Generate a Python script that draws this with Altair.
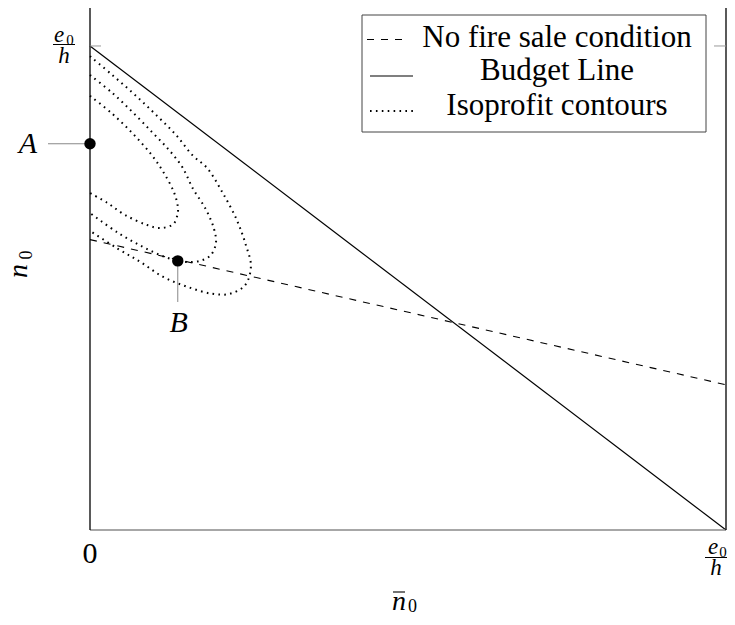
import altair as alt
import pandas as pd

SERIF = "Liberation Serif"

# ---- data (axes in units of e0/h) ----
budget_x = [0.0, 1.0]
budget_y = [1.0, 0.0]
nofire_x = [0.0, 1.0]
nofire_y = [0.6, 0.3]

outer_x = [0.0, 0.035, 0.069, 0.102, 0.134, 0.162, 0.184, 0.208, 0.231, 0.245, 0.253,
           0.244, 0.220, 0.192, 0.154, 0.115, 0.079, 0.044, 0.0]
outer_y = [0.979, 0.940, 0.901, 0.860, 0.818, 0.773, 0.748, 0.698, 0.640, 0.589, 0.545,
           0.506, 0.488, 0.488, 0.502, 0.523, 0.554, 0.581, 0.618]
middle_x = [0.0, 0.035, 0.068, 0.099, 0.123, 0.145, 0.162, 0.182, 0.195, 0.198, 0.190,
            0.173, 0.149, 0.118, 0.083, 0.044, 0.0]
middle_y = [0.940, 0.903, 0.862, 0.820, 0.787, 0.750, 0.705, 0.663, 0.622, 0.593, 0.568,
            0.556, 0.554, 0.564, 0.585, 0.614, 0.655]
inner_x = [0.0, 0.035, 0.068, 0.098, 0.116, 0.132, 0.138, 0.138, 0.131, 0.110, 0.090,
           0.055, 0.027, 0.0]
inner_y = [0.897, 0.860, 0.818, 0.773, 0.738, 0.698, 0.669, 0.655, 0.632, 0.624, 0.630,
           0.651, 0.676, 0.696]

point_names = ["A", "B"]
point_x = [0.0, 0.138]
point_y = [0.798, 0.556]

y_top = 1.095

legend_labels = ["No fire sale condition", "Budget Line", "Isoprofit contours"]

# ---- tables ----
budget_df = pd.DataFrame({"x": budget_x, "y": budget_y})
nofire_df = pd.DataFrame({"x": nofire_x, "y": nofire_y})
rows = []
for name, xs_, ys_ in [("outer", outer_x, outer_y), ("middle", middle_x, middle_y), ("inner", inner_x, inner_y)]:
    for i, (a, b) in enumerate(zip(xs_, ys_)):
        rows.append({"curve": name, "order": i, "x": a, "y": b})
contour_df = pd.DataFrame(rows)
points_df = pd.DataFrame({"name": point_names, "x": point_x, "y": point_y})
origin_df = pd.DataFrame({"x": [0.0], "y": [0.0]})
corner_df = pd.DataFrame({"x": [1.0], "y": [0.0]})
ytick_df = pd.DataFrame({"x": [0.0], "y": [1.0]})
left_df = pd.DataFrame({"x": [0.0], "y": [0.0], "y2": [y_top]})
right_df = pd.DataFrame({"x": [1.0], "y": [0.0], "y2": [y_top]})
bottom_df = pd.DataFrame({"x": [0.0], "x2": [1.0], "y": [0.0]})
one = pd.DataFrame({"a": [0]})

xs = alt.Scale(domain=[0, 1], nice=False, zero=False)
ys = alt.Scale(domain=[0, y_top], nice=False, zero=False)
X = alt.X("x:Q", scale=xs, axis=None)
Y = alt.Y("y:Q", scale=ys, axis=None)

budget = alt.Chart(budget_df).mark_line(color="black", strokeWidth=1.2).encode(x=X, y=Y)
nofire = alt.Chart(nofire_df).mark_line(color="black", strokeWidth=1.1, strokeDash=[7, 7]).encode(x=X, y=Y)
contours = alt.Chart(contour_df).mark_line(
    color="black", strokeWidth=2, strokeDash=[1.6, 4.3], interpolate="catmull-rom"
).encode(x=X, y=Y, detail="curve:N", order="order:Q")

# axis lines
axis_bottom = alt.Chart(bottom_df).mark_rule(color="#8a8a8a", strokeWidth=1.3).encode(
    x=X, x2="x2:Q", y=Y)
axis_left = alt.Chart(left_df).mark_rule(color="black", strokeWidth=1.3).encode(
    x=X, y=Y, y2="y2:Q")
axis_right = alt.Chart(right_df).mark_rule(color="black", strokeWidth=1.3).encode(
    x=X, y=Y, y2="y2:Q")

ticks_l = alt.Chart(ytick_df).mark_rule(color="#999999", strokeWidth=1).encode(
    y=Y, x=alt.value(0), x2=alt.value(11))
ticks_r = alt.Chart(ytick_df).mark_rule(color="#999999", strokeWidth=1).encode(
    y=Y, x=alt.value(624), x2=alt.value(636))

# leaders for A and B
lead_a = alt.Chart(points_df[points_df.name == "A"]).mark_rule(color="#888888", strokeWidth=1).encode(
    y=Y, x=alt.value(-42), x2=alt.value(0))
lead_b = alt.Chart(points_df[points_df.name == "B"]).mark_rule(color="#888888", strokeWidth=1).encode(
    x=X, y=Y, y2=alt.value(302))
points = alt.Chart(points_df).mark_circle(color="black", opacity=1, size=130).encode(x=X, y=Y)


def dtext(df, text, dx, dy, size, style="normal", angle=0, font=SERIF):
    return alt.Chart(df).mark_text(
        text=text, dx=dx, dy=dy, fontSize=size, font=font, fontStyle=style,
        angle=angle, align="center", baseline="alphabetic", color="black"
    ).encode(x=X, y=Y)


def ptext(text, px, py, size, style="normal", angle=0, dx=0, dy=0, align="center", font=SERIF):
    return alt.Chart(one).mark_text(
        text=text, fontSize=size, font=font, fontStyle=style, angle=angle,
        align=align, baseline="alphabetic", color="black", dx=dx, dy=dy
    ).encode(x=alt.value(px), y=alt.value(py))


def prule(x1, x2, y, color="black", width=1.0, dash=None):
    kw = dict(color=color, strokeWidth=width)
    if dash:
        kw["strokeDash"] = dash
    return alt.Chart(one).mark_rule(**kw).encode(
        x=alt.value(x1), x2=alt.value(x2), y=alt.value(y))


label_a = dtext(points_df[points_df.name == "A"], "A", -62, 9, 30, "italic")
label_b = dtext(points_df[points_df.name == "B"], "B", 1, 71, 30, "italic")

tick0 = dtext(origin_df, "0", 0, 33, 30)
# e0/h at the bottom right (kept inside the page)
fr_e = dtext(corner_df, "e", -13, 24, 23, "italic")
fr_0 = dtext(corner_df, "0", -3, 27, 15)
fr_bar = prule(615, 637, 557.5, width=1)
fr_h = dtext(corner_df, "h", -10, 45, 23, "italic")
# e0/h on the left
fl_e = dtext(ytick_df, "e", -31, -3.5, 23, "italic")
fl_0 = dtext(ytick_df, "0", -20, -1, 15)
fl_bar = prule(-37, -15, 44.5, width=1)
fl_h = dtext(ytick_df, "h", -26, 17, 23, "italic")

# axis titles
xt_n = ptext("n", 309, 610, 28, "italic")
xt_bar = prule(303, 315, 592, width=1.1)
xt_0 = ptext("0", 322.5, 612, 18)
yt_n = ptext("n", -63, 271, 28, "italic", angle=270)
yt_0 = ptext("0", -63, 271, 18, angle=270, dx=16, dy=5)

# legend
leg_box = alt.Chart(one).mark_rect(fill="white", stroke="#444444", strokeWidth=1).encode(
    x=alt.value(272), x2=alt.value(616), y=alt.value(15), y2=alt.value(132))
leg_s1 = prule(277, 319, 39.5, width=1.1, dash=[7, 7])
leg_s2 = prule(280, 323, 76, width=1.2)
leg_s3 = prule(280, 327, 111, width=2, dash=[1.6, 4.3])
leg_t1 = ptext(legend_labels[0], 467, 47, 31)
leg_t2 = ptext(legend_labels[1], 467, 80, 31)
leg_t3 = ptext(legend_labels[2], 467, 115, 31)

chart = alt.layer(
    budget, nofire, contours, axis_bottom, axis_left, axis_right, ticks_l, ticks_r,
    lead_a, lead_b, points,
    label_a, label_b, tick0, fr_e, fr_0, fr_bar, fr_h, fl_e, fl_0, fl_bar, fl_h,
    xt_n, xt_bar, xt_0, yt_n, yt_0,
    leg_box, leg_s1, leg_s2, leg_s3, leg_t1, leg_t2, leg_t3,
).properties(
    width=636, height=530,
    autosize=alt.AutoSizeParams(type="none"),
    padding={"left": 82, "top": -8, "right": 1, "bottom": 83},
).configure_view(strokeWidth=0)

chart.save("out.html", embed_options={"renderer": "svg", "actions": False})
